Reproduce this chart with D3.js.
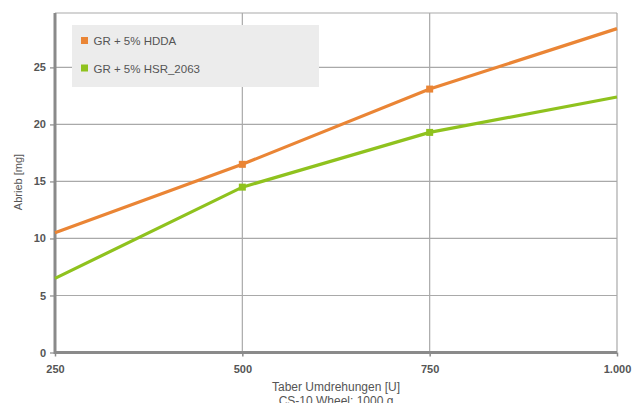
<!DOCTYPE html>
<html><head><meta charset="utf-8">
<script src="https://cdn.jsdelivr.net/npm/d3@7"></script>
<style>
body{margin:0;background:#fff;}
text{font-family:"Liberation Sans",Arial,Helvetica,sans-serif;}
</style></head>
<body><svg id="c" width="643" height="403"></svg>
<script>
const xCategories = [250, 500, 750, 1000];
const xTickLabels = ["250", "500", "750", "1.000"];
const yTicks = [0, 5, 10, 15, 20, 25];
const seriesNames = ["GR + 5% HDDA", "GR + 5% HSR_2063"];
const seriesColors = ["#ea8535", "#8fc21e"];
const hddaValues = [10.5, 16.5, 23.1, 28.4];
const hsrValues = [6.5, 14.5, 19.3, 22.4];
const markerIdx = [1, 2];

const svg = d3.select("#c");
const L = 55, R = 617, T = 13, B = 352.5;
const x = d3.scaleLinear().domain([250, 1000]).range([L, R]);
const y = d3.scaleLinear().domain([0, 29.77]).range([B, T]);

// grid
svg.append("g").selectAll("line").data(yTicks.filter(d=>d>0)).join("line")
  .attr("x1", L).attr("x2", R).attr("y1", d=>y(d)).attr("y2", d=>y(d))
  .attr("stroke", "#a9a9a9").attr("stroke-width", 1.2);
svg.append("g").selectAll("line").data(xCategories.slice(1)).join("line")
  .attr("x1", d=>x(d)).attr("x2", d=>x(d)).attr("y1", T).attr("y2", B)
  .attr("stroke", "#a9a9a9").attr("stroke-width", 1.2);
svg.append("line").attr("x1", L).attr("x2", R).attr("y1", T).attr("y2", T)
  .attr("stroke", "#a9a9a9").attr("stroke-width", 1.2);

// axes
const yAxis = d3.axisLeft(y).tickValues(yTicks).tickSize(5).tickPadding(4);
const gy = svg.append("g").attr("transform", `translate(${L},0)`).call(yAxis);
gy.select(".domain").remove();
gy.selectAll(".tick line").attr("stroke", "#8a8a8a").attr("stroke-width", 1.2);
gy.selectAll(".tick text").attr("fill", "#555").attr("font-size", 11).attr("font-weight", "bold");

const xAxis = d3.axisBottom(x).tickValues(xCategories).tickFormat((d,i)=>xTickLabels[i]).tickSize(4).tickPadding(9);
const gx = svg.append("g").attr("transform", `translate(0,${B})`).call(xAxis);
gx.select(".domain").remove();
gx.selectAll(".tick line").attr("stroke", "#8a8a8a").attr("stroke-width", 1.5);
gx.selectAll(".tick text").attr("fill", "#555").attr("font-size", 11).attr("font-weight", "bold");

svg.append("line").attr("x1", L).attr("x2", L).attr("y1", T).attr("y2", B+1.5)
  .attr("stroke", "#8a8a8a").attr("stroke-width", 3);
svg.append("line").attr("x1", L).attr("x2", R).attr("y1", B).attr("y2", B)
  .attr("stroke", "#8a8a8a").attr("stroke-width", 3);

// lines
const series = [hddaValues, hsrValues];
const line = d3.line().x((d,i)=>x(xCategories[i])).y(d=>y(d));
series.forEach((vals, s) => {
  svg.append("path").datum(vals).attr("d", line).attr("fill", "none")
    .attr("stroke", seriesColors[s]).attr("stroke-width", 3.2);
  svg.append("g").selectAll("rect").data(markerIdx).join("rect")
    .attr("x", i=>x(xCategories[i])-3.5).attr("y", i=>y(vals[i])-3.5)
    .attr("width", 7).attr("height", 7).attr("fill", seriesColors[s]);
});

// legend
const lg = svg.append("g");
lg.append("rect").attr("x", 72).attr("y", 25).attr("width", 247).attr("height", 62).attr("fill", "#ececec");
seriesNames.forEach((n, i) => {
  lg.append("rect").attr("x", 81).attr("y", 37 + i*27.5).attr("width", 7).attr("height", 7).attr("fill", seriesColors[i]);
  lg.append("text").attr("x", 93.5).attr("y", 45 + i*27.5).attr("font-size", 11.5).attr("fill", "#555").text(n);
});

// titles
svg.append("text").attr("transform", "translate(22,182) rotate(-90)").attr("text-anchor", "middle")
  .attr("font-size", 11).attr("fill", "#555").text("Abrieb [mg]");
svg.append("text").attr("x", 336).attr("y", 391).attr("text-anchor", "middle")
  .attr("font-size", 12).attr("fill", "#555").text("Taber Umdrehungen [U]");
svg.append("text").attr("x", 336).attr("y", 405).attr("text-anchor", "middle")
  .attr("font-size", 12).attr("fill", "#555").text("CS-10 Wheel: 1000 g");
</script></body></html>
